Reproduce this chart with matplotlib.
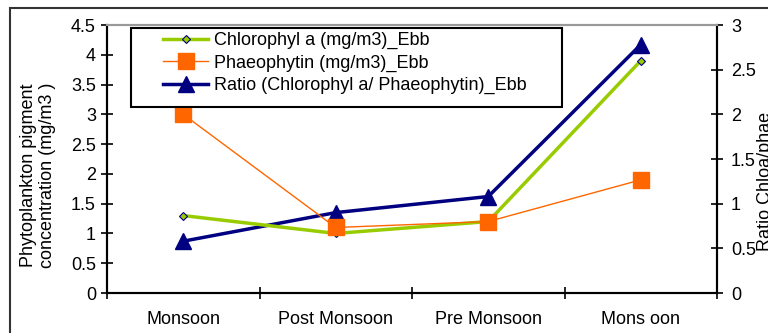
import matplotlib
matplotlib.use("Agg")
import matplotlib.pyplot as plt
from matplotlib.patches import Rectangle

plt.rcParams['font.family'] = ['Liberation Sans', 'DejaVu Sans']

categories = ["Monsoon", "Post Monsoon", "Pre Monsoon", "Mons oon"]
chl = [1.3, 1.0, 1.2, 3.9]
phaeo = [3.0, 1.1, 1.2, 1.9]
ratio = [0.58, 0.9, 1.08, 2.78]
yticks_left = [0, 0.5, 1, 1.5, 2, 2.5, 3, 3.5, 4, 4.5]
yticks_right = [0, 0.5, 1, 1.5, 2, 2.5, 3]

FS = 13
W, H = 768, 333
fig = plt.figure(figsize=(7.68, 3.33), dpi=100)
fig.patches.append(Rectangle((10/W, -0.1), 1.0, 1 - 8/H + 0.1, transform=fig.transFigure,
                             fill=False, edgecolor='#333333', lw=1.5))
ax = fig.add_axes([107/W, 40/H, 610/W, 268/H])
x = list(range(len(categories)))
ax.set_xlim(-0.5, len(categories) - 0.5)
ax.set_ylim(0, 4.5)
l1, = ax.plot(x, chl, color='#99CC00', lw=2.5, marker='D', ms=4.5, mfc='#99CC00', mec='#000080', mew=0.8,
              label='Chlorophyl a (mg/m3)_Ebb', zorder=3)
l2, = ax.plot(x, phaeo, color='#FF6600', lw=1, marker='s', ms=11, mfc='#FF6600', mec='#FF6600',
              label='Phaeophytin (mg/m3)_Ebb', zorder=3)
ax2 = ax.twinx()
ax2.set_ylim(0, 3)
l3, = ax2.plot(x, ratio, color='#000080', lw=2.5, marker='^', ms=11,
               label='Ratio (Chlorophyl a/ Phaeophytin)_Ebb', zorder=3)
ax.set_zorder(ax2.get_zorder() + 1)
ax.patch.set_visible(False)

ax.set_yticks(yticks_left)
ax.set_yticklabels([f"{v:g}" for v in yticks_left])
ax2.set_yticks(yticks_right)
ax2.set_yticklabels([f"{v:g}" for v in yticks_right])
ax.set_xticks([i - 0.5 for i in range(len(categories) + 1)])
ax.set_xticklabels([])
ax.set_xticks(x, minor=True)
ax.set_xticklabels(categories, minor=True)
ax.tick_params(axis='x', which='minor', length=0, pad=13, labelsize=FS)
ax.tick_params(axis='x', which='major', direction='inout', length=8, width=1.2)
ax.tick_params(axis='y', direction='inout', length=8, width=1.2, labelsize=FS, pad=4)
ax2.tick_params(axis='y', direction='inout', length=8, width=1.2, labelsize=FS, pad=6)

for a in (ax, ax2):
    a.spines['top'].set_color('#999999')
    for s in ('top', 'left', 'right', 'bottom'):
        a.spines[s].set_linewidth(1.5)

fig.text(38/W, 158/H, "Phytoplankton pigment\nconcentration (mg/m3 )", rotation=90,
         ha='center', va='center', fontsize=FS, linespacing=1.15)
fig.text(765/W, 152/H, "Ratio Chloa/phae", rotation=90, ha='center', va='center', fontsize=FS)

# legend frame (wider than the entries, as in the reference)
frame = Rectangle((131/W, 1 - 107/H), (562 - 131)/W, (107 - 28)/H, transform=fig.transFigure,
                  facecolor='white', edgecolor='black', lw=1.5, zorder=9)
fig.patches.append(frame)
leg = fig.legend(handles=[l1, l2, l3], loc='upper left', bbox_to_anchor=(163/W, 1 - 32/H),
                 bbox_transform=fig.transFigure, frameon=False,
                 fontsize=FS, handlelength=2.5, borderpad=0, labelspacing=0.3, handletextpad=0.3,
                 borderaxespad=0)
leg.set_zorder(10)

fig.savefig("out.png", dpi=100)
